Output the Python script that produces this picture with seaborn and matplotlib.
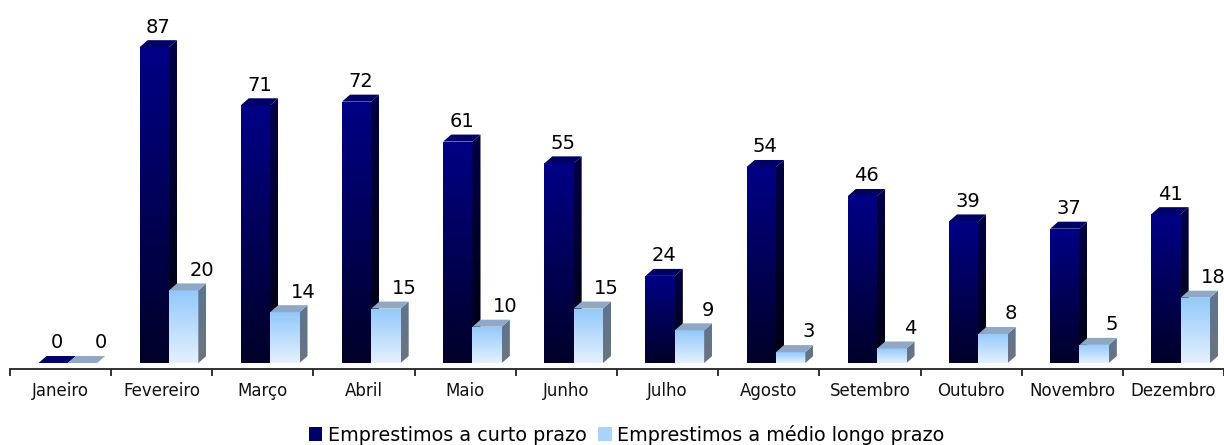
import numpy as np
import pandas as pd
import seaborn as sns
import matplotlib.pyplot as plt
from matplotlib.patches import Polygon, Patch
from matplotlib.colors import to_rgb

months = ['Janeiro', 'Fevereiro', 'Março', 'Abril', 'Maio', 'Junho',
          'Julho', 'Agosto', 'Setembro', 'Outubro', 'Novembro', 'Dezembro']
curto = [0, 87, 71, 72, 61, 55, 24, 54, 46, 39, 37, 41]
medio = [0, 20, 14, 15, 10, 15, 9, 3, 4, 8, 5, 18]
series = ['Emprestimos a curto prazo', 'Emprestimos a médio longo prazo']

df = pd.DataFrame({
    'mes': months * 2,
    'valor': curto + medio,
    'serie': [series[0]] * len(months) + [series[1]] * len(months),
})

# colours: front gradient (top, bottom), side gradient, top face
styles = {
    series[0]: dict(front=('#000086', '#000028'), side=('#000045', '#000010'), top='#000066',
                    legend='#00006a', label_dx=4),
    series[1]: dict(front=('#93c8fb', '#e4f1fe'), side=('#5d7591', '#6b747e'), top='#8ea8c6',
                    legend='#a9d3fb', label_dx=18),
}

W, H = 1224, 445
fig = plt.figure(figsize=(W / 100, H / 100), dpi=100)
ax = fig.add_axes([10 / W, (H - 369) / H, (W - 10) / W, 369 / H])

sns.barplot(data=df, x='mes', y='valor', hue='serie', order=months, hue_order=series,
            palette={s: styles[s]['legend'] for s in series}, width=0.58,
            errorbar=None, legend=False, ax=ax)

ax.set_xlim(-0.5, len(months) - 0.5)
ax.set_ylim(-1.65, 100)

# pixel -> data conversions
px_x = (W - 10) / len(months)
px_y = 363 / 100
dx, dy = 8 / px_x, 7 / px_y
shift = 7.25 / px_x


def gradient(patch, top, bottom, z):
    verts = patch.get_path().vertices
    verts = patch.get_patch_transform().transform(verts) if hasattr(patch, 'get_patch_transform') else verts
    x0, x1 = verts[:, 0].min(), verts[:, 0].max()
    y0, y1 = verts[:, 1].min(), verts[:, 1].max()
    if y1 - y0 <= 0:
        return
    c0, c1 = np.array(to_rgb(top)), np.array(to_rgb(bottom))
    t = np.linspace(0, 1, 256)[:, None, None]
    img = c0 * (1 - t) + c1 * t
    im = ax.imshow(img, extent=(x0, x1, y0, y1), aspect='auto', origin='upper',
                   interpolation='bilinear', zorder=z)
    im.set_clip_path(patch)


for k, (s, cont) in enumerate(zip(series, ax.containers)):
    st = styles[s]
    z = 2 + k
    for bar in cont:
        bar.set_x(bar.get_x() + shift)
        x0, w, h = bar.get_x(), bar.get_width(), bar.get_height()
        x1 = x0 + w
        bar.set_facecolor('none')
        bar.set_edgecolor('none')
        bar.set_zorder(z)
        gradient(bar, *st['front'], z)

        side = Polygon([(x1, 0), (x1 + dx, dy), (x1 + dx, h + dy), (x1, h)],
                       closed=True, facecolor=st['side'][0], edgecolor='none', zorder=z)
        ax.add_patch(side)
        if h > 0:
            side.set_facecolor('none')
            gradient(side, *st['side'], z)
        topf = Polygon([(x0, h), (x0 + dx, h + dy), (x1 + dx, h + dy), (x1, h)],
                       closed=True, facecolor=st['top'], edgecolor='none', zorder=z)
        ax.add_patch(topf)

        ax.text(x0 + w / 2 + st['label_dx'] / px_x, h + dy + 1.0, f'{int(h)}',
                ha='center', va='bottom', fontsize=14, color='black', zorder=5)

ax.set_xlim(-0.5, len(months) - 0.5)
ax.set_ylim(-1.65, 100)

for sp in ['top', 'right', 'left']:
    ax.spines[sp].set_visible(False)
ax.spines['bottom'].set_color('#222222')
ax.spines['bottom'].set_linewidth(1.3)
ax.set_yticks([])
ax.set_xlabel('')
ax.set_ylabel('')
ax.set_xticks(np.arange(-0.5, len(months), 1), minor=True)
ax.tick_params(axis='x', which='major', length=0, pad=9, labelsize=12, labelcolor='#111111')
ax.tick_params(axis='x', which='minor', length=5, width=1.3, color='#222222', direction='out')
ax.patch.set_alpha(0)

handles = [Patch(facecolor=styles[s]['legend'], edgecolor='none', label=s) for s in series]
fig.legend(handles=handles, loc='center', bbox_to_anchor=(0.512, 0.023), ncol=2,
           frameon=False, fontsize=13.8, handlelength=0.7, handleheight=0.7,
           handletextpad=0.3, columnspacing=0.6, borderpad=0)

fig.savefig('out.png', dpi=100)
